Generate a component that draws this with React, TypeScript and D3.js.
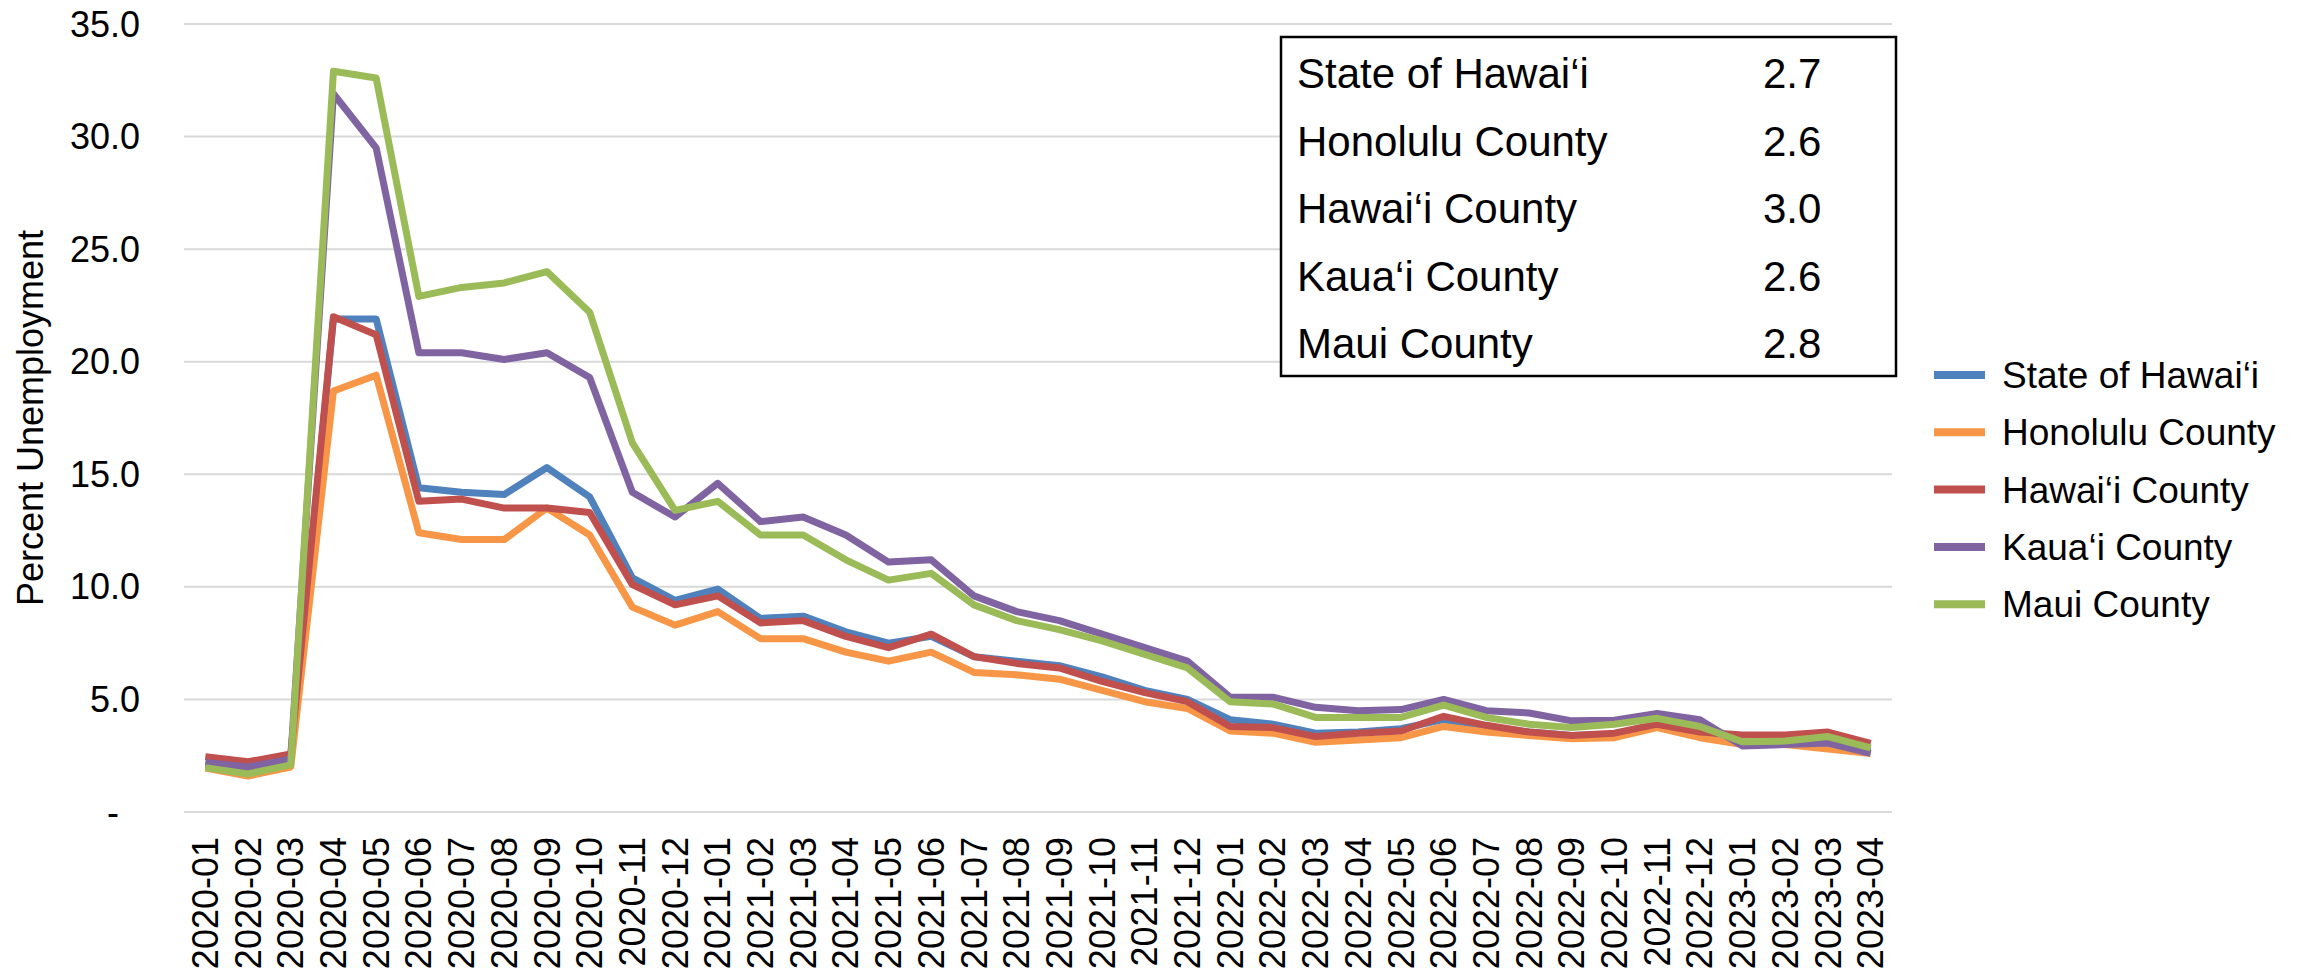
import { useEffect, useRef } from 'react'
import * as d3 from 'd3'

const months = [
  '2020-01', '2020-02', '2020-03', '2020-04', '2020-05', '2020-06', '2020-07', '2020-08', '2020-09', '2020-10', '2020-11', '2020-12',
  '2021-01', '2021-02', '2021-03', '2021-04', '2021-05', '2021-06', '2021-07', '2021-08', '2021-09', '2021-10', '2021-11', '2021-12',
  '2022-01', '2022-02', '2022-03', '2022-04', '2022-05', '2022-06', '2022-07', '2022-08', '2022-09', '2022-10', '2022-11', '2022-12',
  '2023-01', '2023-02', '2023-03', '2023-04',
]

const seriesNames = ['State of Hawai‘i', 'Honolulu County', 'Hawai‘i County', 'Kaua‘i County', 'Maui County']
const seriesColors = ['#4F81BD', '#F79646', '#C0504D', '#8064A2', '#9BBB59']

const stateValues = [
  2.1, 1.9, 2.2, 21.9, 21.9, 14.4, 14.2, 14.1, 15.3, 14.0, 10.4, 9.4,
  9.9, 8.6, 8.7, 8.0, 7.5, 7.8, 6.9, 6.7, 6.5, 6.0, 5.4, 5.0,
  4.1, 3.9, 3.5, 3.55, 3.7, 4.1, 3.8, 3.55, 3.4, 3.45, 3.9, 3.5,
  3.0, 3.0, 3.0, 2.7,
]
const honoluluValues = [
  1.95, 1.6, 2.0, 18.7, 19.4, 12.4, 12.1, 12.1, 13.5, 12.3, 9.1, 8.3,
  8.9, 7.7, 7.7, 7.1, 6.7, 7.1, 6.2, 6.1, 5.9, 5.4, 4.9, 4.6,
  3.6, 3.5, 3.1, 3.2, 3.3, 3.8, 3.55, 3.4, 3.25, 3.3, 3.75, 3.3,
  3.0, 3.0, 2.8, 2.6,
]
const hawaiiValues = [
  2.46, 2.23, 2.58, 22.0, 21.2, 13.8, 13.9, 13.5, 13.5, 13.3, 10.1, 9.2,
  9.6, 8.4, 8.5, 7.8, 7.3, 7.9, 6.9, 6.6, 6.4, 5.8, 5.3, 4.9,
  3.8, 3.75, 3.35, 3.5, 3.6, 4.25, 3.85, 3.55, 3.4, 3.5, 3.9, 3.55,
  3.42, 3.42, 3.55, 3.05,
]
const kauaiValues = [
  2.2, 2.0, 2.34, 31.9, 29.5, 20.4, 20.4, 20.1, 20.4, 19.3, 14.2, 13.1,
  14.6, 12.9, 13.1, 12.3, 11.1, 11.2, 9.6, 8.9, 8.5, 7.9, 7.3, 6.7,
  5.1, 5.1, 4.65, 4.5, 4.55, 5.0, 4.5, 4.4, 4.05, 4.08, 4.38, 4.1,
  2.93, 3.0, 3.06, 2.6,
]
const mauiValues = [
  1.97, 1.69, 2.09, 32.9, 32.6, 22.9, 23.3, 23.5, 24.0, 22.2, 16.4, 13.4,
  13.8, 12.3, 12.3, 11.2, 10.3, 10.6, 9.2, 8.5, 8.1, 7.6, 7.0, 6.4,
  4.9, 4.8, 4.2, 4.2, 4.2, 4.75, 4.2, 3.9, 3.75, 3.9, 4.16, 3.8,
  3.12, 3.15, 3.35, 2.85,
]

// latest month values shown in the box
const latestValues = ['2.7', '2.6', '3.0', '2.6', '2.8']

const yTicks = [0, 5, 10, 15, 20, 25, 30, 35]

const WIDTH = 2305
const HEIGHT = 974
const FONT = '"Liberation Sans", Arial, Helvetica, sans-serif'

export default function App() {
  const svgRef = useRef<SVGSVGElement>(null)

  useEffect(() => {
    const svg = d3.select(svgRef.current)
    svg.selectAll('*').remove()

    const left = 184
    const right = 1892
    const top = 24
    const bottom = 812

    const x = d3.scaleBand().domain(months).range([left, right])
    const y = d3.scaleLinear().domain([0, 35]).range([bottom, top])
    const cx = (m: string) => (x(m) ?? 0) + x.bandwidth() / 2

    svg.attr('viewBox', `0 0 ${WIDTH} ${HEIGHT}`).style('font-family', FONT)

    svg.append('rect').attr('width', WIDTH).attr('height', HEIGHT).attr('fill', '#fff')

    // gridlines
    svg
      .append('g')
      .selectAll('line')
      .data(yTicks)
      .join('line')
      .attr('x1', left)
      .attr('x2', right)
      .attr('y1', (d) => y(d))
      .attr('y2', (d) => y(d))
      .attr('stroke', '#D9D9D9')
      .attr('stroke-width', 2)

    // y tick labels
    svg
      .append('g')
      .selectAll('text')
      .data(yTicks)
      .join('text')
      .attr('x', (d) => (d === 0 ? 119 : 140))
      .attr('y', (d) => y(d))
      .attr('dy', '0.35em')
      .attr('text-anchor', 'end')
      .attr('font-size', 36)
      .attr('fill', '#000')
      .text((d) => (d === 0 ? '-' : d.toFixed(1)))

    svg
      .append('text')
      .attr('transform', `translate(30,${(top + bottom) / 2}) rotate(-90)`)
      .attr('text-anchor', 'middle')
      .attr('dy', '0.35em')
      .attr('font-size', 36)
      .attr('fill', '#000')
      .text('Percent Unemployment')

    // x labels, rotated
    svg
      .append('g')
      .selectAll('text')
      .data(months)
      .join('text')
      .attr('transform', (d) => `translate(${cx(d)},837) rotate(-90)`)
      .attr('text-anchor', 'end')
      .attr('dy', '0.35em')
      .attr('font-size', 36)
      .attr('fill', '#000')
      .text((d) => d)

    const allSeries = [stateValues, honoluluValues, hawaiiValues, kauaiValues, mauiValues]

    const line = d3
      .line<number>()
      .x((_, i) => cx(months[i]))
      .y((d) => y(d))

    svg
      .append('g')
      .selectAll('path')
      .data(allSeries)
      .join('path')
      .attr('fill', 'none')
      .attr('stroke', (_, i) => seriesColors[i])
      .attr('stroke-width', 7)
      .attr('stroke-linejoin', 'round')
      .attr('d', (d) => line(d))

    // boxed table of latest values
    const box = svg.append('g')
    box
      .append('rect')
      .attr('x', 1281)
      .attr('y', 37)
      .attr('width', 615)
      .attr('height', 339)
      .attr('fill', '#fff')
      .attr('stroke', '#000')
      .attr('stroke-width', 2.5)
    seriesNames.forEach((name, i) => {
      box
        .append('text')
        .attr('x', 1297)
        .attr('y', 88 + i * 67.5)
        .attr('font-size', 42)
        .attr('fill', '#000')
        .text(name)
      box
        .append('text')
        .attr('x', 1763)
        .attr('y', 88 + i * 67.5)
        .attr('font-size', 42)
        .attr('fill', '#000')
        .text(latestValues[i])
    })

    // legend
    const legend = svg
      .append('g')
      .selectAll('g')
      .data(seriesNames)
      .join('g')
      .attr('transform', (_, i) => `translate(1934,${375 + i * 57.3})`)
    legend
      .append('line')
      .attr('x1', 0)
      .attr('x2', 51)
      .attr('stroke', (_, i) => seriesColors[i])
      .attr('stroke-width', 8)
    legend
      .append('text')
      .attr('x', 68)
      .attr('dy', '0.35em')
      .attr('font-size', 37)
      .attr('fill', '#000')
      .text((d) => d)
  }, [])

  return (
    <svg
      ref={svgRef}
      width={WIDTH}
      height={HEIGHT}
      style={{ position: 'absolute', left: 0, top: 0, display: 'block' }}
    />
  )
}
